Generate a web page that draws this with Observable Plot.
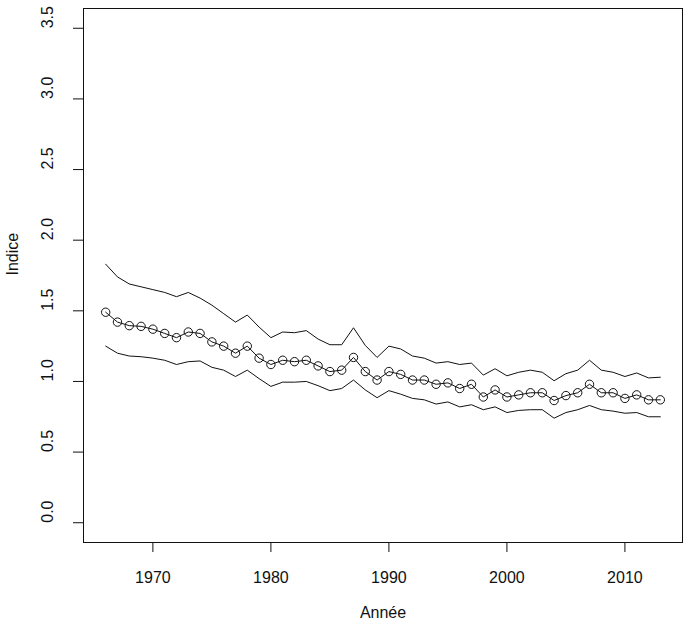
<!DOCTYPE html>
<html>
<head>
<meta charset="utf-8">
<script src="https://cdn.jsdelivr.net/npm/d3@7"></script>
<script src="https://cdn.jsdelivr.net/npm/@observablehq/plot@0.6"></script>
<style>
  html, body { margin: 0; padding: 0; background: #fff; }
  #chart svg { display: block; }
</style>
</head>
<body>
<div id="chart"></div>
<script>
const years = d3.range(1966, 2014);
const indice = [
  1.49, 1.42, 1.395, 1.39, 1.37, 1.34, 1.31, 1.35, 1.34, 1.28,
  1.25, 1.20, 1.25, 1.165, 1.12, 1.15, 1.14, 1.15, 1.11, 1.07,
  1.08, 1.17, 1.07, 1.01, 1.07, 1.05, 1.01, 1.01, 0.98, 0.99,
  0.95, 0.98, 0.89, 0.94, 0.89, 0.905, 0.92, 0.92, 0.865, 0.90,
  0.92, 0.98, 0.92, 0.92, 0.88, 0.905, 0.87, 0.87
];
const upper = [
  1.83, 1.74, 1.69, 1.67, 1.65, 1.63, 1.60, 1.63, 1.59, 1.54,
  1.48, 1.42, 1.47, 1.385, 1.31, 1.35, 1.345, 1.36, 1.30, 1.26,
  1.26, 1.38, 1.255, 1.17, 1.25, 1.23, 1.18, 1.165, 1.13, 1.14,
  1.12, 1.13, 1.045, 1.09, 1.04, 1.065, 1.08, 1.065, 1.005, 1.055,
  1.08, 1.15, 1.08, 1.065, 1.035, 1.06, 1.025, 1.03
];
const lower = [
  1.25, 1.20, 1.18, 1.175, 1.165, 1.15, 1.12, 1.14, 1.145, 1.10,
  1.08, 1.035, 1.08, 1.02, 0.965, 0.995, 0.995, 1.00, 0.97, 0.935,
  0.95, 1.01, 0.94, 0.885, 0.935, 0.91, 0.88, 0.87, 0.84, 0.855,
  0.82, 0.835, 0.80, 0.82, 0.78, 0.795, 0.80, 0.80, 0.74, 0.78,
  0.80, 0.83, 0.80, 0.79, 0.775, 0.78, 0.75, 0.75
];
const xTicks = [1970, 1980, 1990, 2000, 2010];
const yTicks = [0, 0.5, 1, 1.5, 2, 2.5, 3, 3.5];
const xLabel = "Année";
const yLabel = "Indice";

const rows = years.map((year, i) => ({year, indice: indice[i], upper: upper[i], lower: lower[i]}));

const font = "'Liberation Sans', Arial, sans-serif";
const xSpan = years[years.length - 1] - years[0];
const yMax = 3.5;

const chart = Plot.plot({
  width: 700,
  height: 634,
  marginLeft: 83,
  marginRight: 18,
  marginTop: 8,
  marginBottom: 92,
  style: {fontFamily: font, fontSize: "16px", color: "#111", background: "#fff"},
  x: {domain: [years[0] - 0.04 * xSpan, years[years.length - 1] + 0.04 * xSpan]},
  y: {domain: [-0.04 * yMax, yMax + 0.04 * yMax]},
  marks: [
    Plot.line(rows, {x: "year", y: "upper", stroke: "#111", strokeWidth: 1}),
    Plot.line(rows, {x: "year", y: "lower", stroke: "#111", strokeWidth: 1}),
    Plot.line(rows, {x: "year", y: "indice", stroke: "#111", strokeWidth: 1}),
    Plot.dot(rows, {x: "year", y: "indice", r: 4.2, stroke: "#111", fill: "none", strokeWidth: 1}),
    Plot.frame({stroke: "#111", strokeWidth: 1}),
    Plot.axisX({ticks: xTicks, tickSize: 10, tickPadding: 19, tickFormat: d => String(d), label: null, fontSize: 16}),
    Plot.axisY({ticks: yTicks, tickSize: 10, tickFormat: () => "", label: null}),
    Plot.text(yTicks, {y: d => d, frameAnchor: "left", dx: -36, rotate: -90, text: d => d.toFixed(1), fontSize: 16, fill: "#111"}),
    Plot.text([xLabel], {frameAnchor: "bottom", dy: 75, text: d => d, fontSize: 16, fill: "#111"}),
    Plot.text([yLabel], {frameAnchor: "left", dx: -71, rotate: -90, text: d => d, fontSize: 16, fill: "#111"})
  ]
});
document.getElementById("chart").appendChild(chart);
</script>
</body>
</html>
